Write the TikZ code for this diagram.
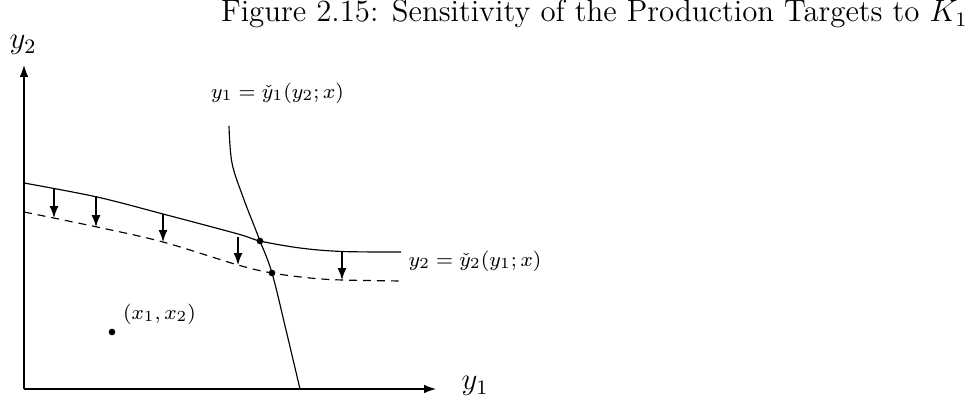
\documentclass[tikz,border=0pt]{standalone}
\usetikzlibrary{arrows.meta}
\begin{document}
\begin{tikzpicture}[x=0.389pt,y=-0.389pt,
  axis/.style={line width=0.5pt,-{Latex[length=4.6pt,width=3.3pt]}},
  curve/.style={line width=0.45pt},
  downarrow/.style={line width=0.45pt,-{Latex[length=4.6pt,width=3.4pt]}},
  dot/.style={circle,fill,inner sep=0pt,minimum size=2.6pt},
  lbl/.style={font=\fontsize{7.9}{9.5}\selectfont,inner sep=0pt}]
\useasboundingbox (0,0) rectangle (974,400);
% axes
\coordinate (O) at (24,389);
\coordinate (Ytip) at (24,65);
\coordinate (Xtip) at (436,389);
\draw[axis] (O) -- (Ytip);
\draw[axis] (O) -- (Xtip);
\node[inner sep=0pt,font=\large] (ly2) at (23,45) {$y_2$};
\node[inner sep=0pt,font=\large] (ly1) at (475,386) {$y_1$};
% title
\node[inner sep=0pt,anchor=base east,font=\large] (title) at (968,22) {Figure 2.15: Sensitivity of the Production Targets to $K_1$};
% curves
\draw[curve] plot[smooth,tension=0.55] coordinates {(24,183) (97,197) (163,214) (238,234) (260,241) (300,248) (342,251.5) (401,252)};
\draw[curve,dash pattern=on 3.1pt off 2.3pt] plot[smooth,tension=0.55] coordinates {(24,212) (97,227) (163,242) (238,265) (272,273) (310,278) (342,280) (401,281)};
\draw[curve] plot[smooth,tension=0.6] coordinates {(229,126) (232,163) (243,197) (255,228) (260,241) (272,273) (286,330) (300,389)};
% shift arrows
\coordinate (a1) at (54,188); \coordinate (b1) at (54,218);
\coordinate (a2) at (96,196); \coordinate (b2) at (96,227);
\coordinate (a3) at (163,214); \coordinate (b3) at (163,242);
\coordinate (a4) at (238,237); \coordinate (b4) at (238,265);
\coordinate (a5) at (342,252); \coordinate (b5) at (342,280);
\foreach \i in {1,...,5} {\draw[downarrow] (a\i) -- (b\i);}
% dots
\node[dot] (p1) at (260,241) {};
\node[dot] (p2) at (272,273) {};
\node[dot] (px) at (112,332) {};
% labels
\node[lbl] (lx) at (159.5,314) {$(x_1,x_2)$};
\node[lbl] (lc1) at (277.5,93) {$y_1=\check{y}_1(y_2;x)$};
\node[lbl] (lc2) at (475,261) {$y_2=\check{y}_2(y_1;x)$};
\end{tikzpicture}
\end{document}
